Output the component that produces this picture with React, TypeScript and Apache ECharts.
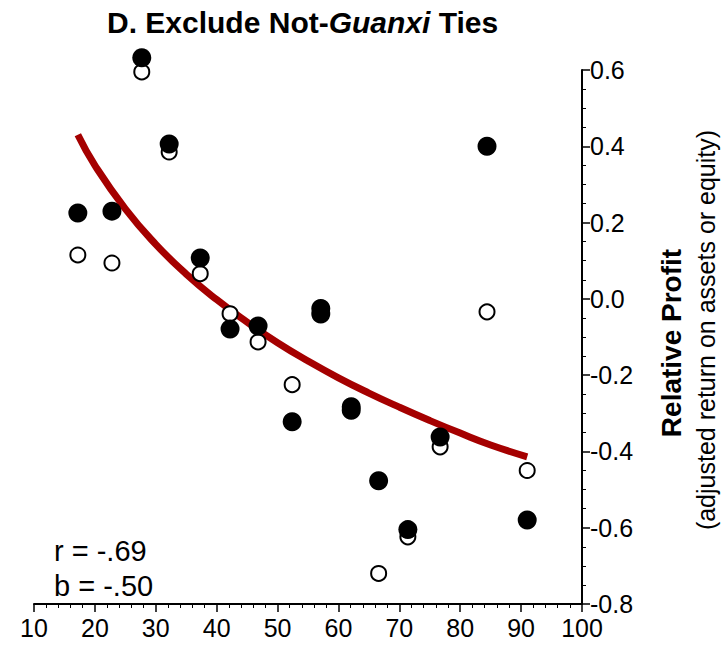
import React, { useEffect, useRef } from "react";
import * as echarts from "echarts";

// Filled circles (all ties)
const filledX = [17.2, 22.8, 27.7, 32.2, 37.3, 42.2, 46.8, 52.4, 57.1, 57.1, 62.1, 62.1, 66.6, 71.4, 76.7, 84.4, 91.0];
const filledY = [0.225, 0.23, 0.632, 0.406, 0.107, -0.079, -0.071, -0.322, -0.025, -0.04, -0.283, -0.292, -0.477, -0.605, -0.362, 0.40, -0.58];
// Open circles (excluding not-guanxi ties)
const openX = [17.2, 22.8, 27.7, 32.2, 37.3, 42.2, 46.8, 52.4, 57.1, 62.1, 66.6, 71.4, 76.7, 84.4, 91.0];
const openY = [0.115, 0.094, 0.595, 0.385, 0.066, -0.039, -0.113, -0.225, -0.04, -0.29, -0.72, -0.624, -0.388, -0.034, -0.45];
// Fitted curve
const fitX = [17.2, 20, 25, 30, 35, 40, 45, 50, 55, 60, 65, 70, 75, 80, 85, 91.0];
const fitY = [0.43, 0.35, 0.236, 0.143, 0.065, -0.002, -0.061, -0.115, -0.163, -0.207, -0.247, -0.284, -0.319, -0.352, -0.383, -0.414];
const xTicks = [10, 20, 30, 40, 50, 60, 70, 80, 90, 100];
const yTicks = [-0.8, -0.6, -0.4, -0.2, 0.0, 0.2, 0.4, 0.6];

const FONT = "Liberation Sans, Arial, sans-serif";

export default function App() {
  const ref = useRef<HTMLDivElement>(null);
  useEffect(() => {
    if (!ref.current) return;
    const chart = echarts.init(ref.current, null, { renderer: "svg" });
    const zip = (xs: number[], ys: number[]) => xs.map((x, i) => [x, ys[i]]);
    chart.setOption({
      animation: false,
      backgroundColor: "#fff",
      textStyle: { fontFamily: FONT },
      title: {
        text: "{b|D. Exclude Not-}{bi|Guanxi}{b| Ties}",
        left: 102,
        top: 2,
        textStyle: {
          rich: {
            b: { fontFamily: FONT, fontWeight: "bold", fontSize: 30, color: "#000" },
            bi: { fontFamily: FONT, fontWeight: "bold", fontStyle: "italic", fontSize: 30, color: "#000" },
          },
        },
      },
      grid: { left: 34, right: 139, top: 70, bottom: 53, containLabel: false },
      xAxis: {
        type: "value",
        min: xTicks[0],
        max: xTicks[xTicks.length - 1],
        interval: 10,
        axisLine: { show: true, onZero: false, lineStyle: { color: "#000", width: 2 } },
        axisTick: { show: true, length: 8, lineStyle: { color: "#000", width: 1.5 } },
        minorTick: { show: true, splitNumber: 5, length: 4, lineStyle: { color: "#000", width: 1 } },
        splitLine: { show: false },
        axisLabel: { color: "#000", fontSize: 25, fontFamily: FONT, margin: 11 },
      },
      yAxis: {
        type: "value",
        position: "right",
        min: yTicks[0],
        max: yTicks[yTicks.length - 1],
        interval: 0.2,
        axisLine: { show: true, lineStyle: { color: "#000", width: 2 } },
        axisTick: { show: true, length: 8, lineStyle: { color: "#000", width: 1.5 } },
        minorTick: { show: true, splitNumber: 4, length: 4, lineStyle: { color: "#000", width: 1 } },
        splitLine: { show: false },
        axisLabel: {
          color: "#000",
          fontSize: 25,
          fontFamily: FONT,
          margin: 8,
          formatter: (v: number) => v.toFixed(1),
        },
      },
      graphic: [
        {
          type: "text",
          x: 671,
          y: 343,
          rotation: Math.PI / 2,
          style: {
            text: "Relative Profit",
            font: `bold 28px ${FONT}`,
            fill: "#000",
            align: "center",
            verticalAlign: "middle",
          },
        },
        {
          type: "text",
          x: 706,
          y: 330,
          rotation: Math.PI / 2,
          style: {
            text: "(adjusted return on assets or equity)",
            font: `25px ${FONT}`,
            fill: "#000",
            align: "center",
            verticalAlign: "middle",
          },
        },
        {
          type: "text",
          x: 54,
          y: 551,
          style: { text: "r = -.69", font: `29px ${FONT}`, fill: "#000", verticalAlign: "middle" },
        },
        {
          type: "text",
          x: 54,
          y: 586,
          style: { text: "b = -.50", font: `29px ${FONT}`, fill: "#000", verticalAlign: "middle" },
        },
      ],
      series: [
        {
          type: "line",
          data: zip(fitX, fitY),
          smooth: true,
          showSymbol: false,
          clip: false,
          lineStyle: { color: "#A50000", width: 7 },
          z: 1,
        },
        {
          type: "scatter",
          data: zip(openX, openY),
          symbol: "circle",
          symbolSize: 15,
          clip: false,
          itemStyle: { color: "#fff", borderColor: "#000", borderWidth: 2, opacity: 1 },
          z: 2,
        },
        {
          type: "scatter",
          data: zip(filledX, filledY),
          symbol: "circle",
          symbolSize: 19,
          clip: false,
          itemStyle: { color: "#000", opacity: 1 },
          z: 3,
        },
      ],
    });
    return () => chart.dispose();
  }, []);
  return <div ref={ref} style={{ width: 721, height: 657, position: "absolute", left: 0, top: 0 }} />;
}
